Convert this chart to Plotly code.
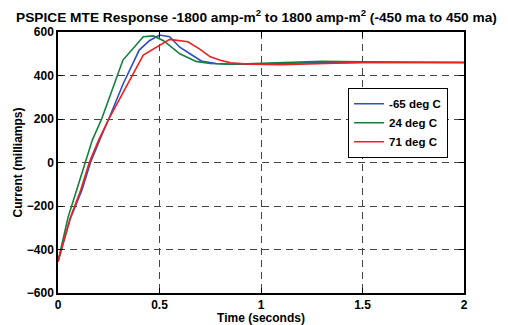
import plotly.graph_objects as go

# -65 deg C (blue)
t_blue = [0, 0.06, 0.118, 0.16, 0.205, 0.25, 0.32, 0.40, 0.45, 0.50, 0.55, 0.60, 0.65, 0.71, 0.78, 0.85, 1.0, 1.2, 1.5, 2.0]
v_blue = [-455, -260, -126, 0, 103, 200, 360, 517, 560, 586, 578, 530, 500, 465, 455, 452, 452, 458, 460, 460]

# 24 deg C (green)
t_green = [0, 0.05, 0.092, 0.133, 0.169, 0.215, 0.32, 0.42, 0.47, 0.52, 0.60, 0.68, 0.75, 0.85, 0.95, 1.1, 1.3, 1.5, 1.75, 2.0]
v_green = [-455, -250, -126, 0, 103, 200, 471, 578, 582, 560, 500, 465, 455, 452, 455, 462, 465, 463, 460, 460]

# 71 deg C (red)
t_red = [0, 0.06, 0.112, 0.154, 0.2, 0.25, 0.42, 0.50, 0.55, 0.64, 0.70, 0.75, 0.80, 0.85, 0.95, 1.1, 1.25, 1.5, 2.0]
v_red = [-455, -255, -126, 0, 103, 200, 494, 540, 566, 555, 520, 486, 470, 458, 452, 450, 455, 460, 460]

names = ["-65 deg C", "24 deg C", "71 deg C"]
colors = ["#2f4fbf", "#14803c", "#ee2020"]

x_ticks = [0, 0.5, 1, 1.5, 2]
x_tick_labels = ["0", "0.5", "1", "1.5", "2"]
y_ticks = [-600, -400, -200, 0, 200, 400, 600]

fig = go.Figure()
for t, v, n, c in zip([t_blue, t_green, t_red], [v_blue, v_green, v_red], names, colors):
    fig.add_trace(go.Scatter(x=t, y=v, mode="lines", name=n,
                             line=dict(color=c, width=1.6)))

FAM = "Liberation Sans, Arial, sans-serif"
font = dict(family=FAM, size=11, color="black")

axis_common = dict(
    showline=True, linecolor="black", linewidth=1.5, mirror="ticks",
    ticks="inside", ticklen=5, tickcolor="black", tickwidth=1,
    showgrid=True, gridcolor="#444444", gridwidth=1.2, griddash="7px,5px",
    zeroline=False, automargin=False,
    tickfont=dict(family=FAM, size=12, color="black", weight="bold"),
)

# the page body adds an 8px margin, so the figure is 500x317 placed at (8, 8)
fig.update_layout(
    width=500, height=317,
    margin=dict(l=50, r=44, t=24, b=32),
    paper_bgcolor="white", plot_bgcolor="white",
    font=font,
    title=dict(
        text="PSPICE MTE Response -1800 amp-m<sup>2</sup> to 1800 amp-m<sup>2</sup> (-450 ma to 450 ma)",
        x=0.497, xanchor="center", y=0.972, yanchor="middle", automargin=False,
        font=dict(family=FAM, size=13.7, color="black", weight="bold"),
    ),
    xaxis=dict(range=[0, 2], tickvals=x_ticks, ticktext=x_tick_labels,
               title=dict(text="Time (seconds)", standoff=0,
                          font=dict(size=12, weight="bold")),
               **axis_common),
    yaxis=dict(range=[-600, 600], tickvals=y_ticks,
               title=dict(text="Current (milliamps)", standoff=2,
                          font=dict(size=12, weight="bold")),
               **axis_common),
    legend=dict(x=0.714, y=0.785, xanchor="left", yanchor="top",
                bgcolor="white", bordercolor="black", borderwidth=1.2,
                font=dict(size=11.5, weight="bold"),
                tracegroupgap=0, itemwidth=30),
    showlegend=True,
)

fig.write_html("out.html")
